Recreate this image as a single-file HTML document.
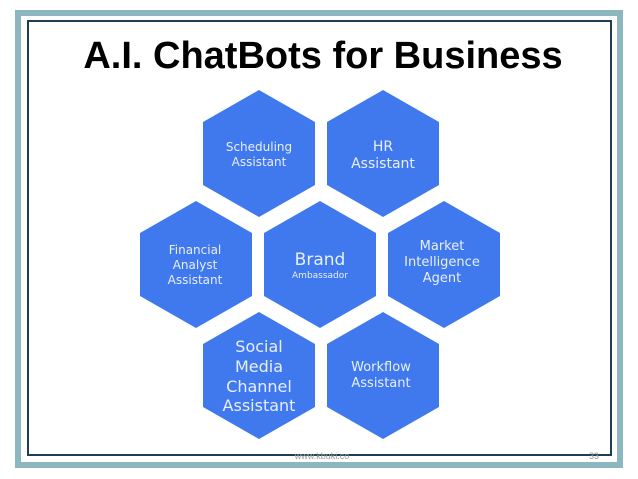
<!DOCTYPE html>
<html><head><style>
html,body{margin:0;padding:0;background:#fff;}
body{width:638px;height:479px;position:relative;overflow:hidden;font-family:"Liberation Sans",sans-serif;}
h1{position:absolute;left:4px;width:638px;top:35px;margin:0;text-align:center;font-size:38px;font-weight:bold;color:#000;}
</style></head><body>
<svg width="638" height="479" style="position:absolute;left:0;top:0">
<rect x="18" y="13" width="602" height="452" fill="none" stroke="#8db7bf" stroke-width="6"/>
<rect x="28" y="21" width="583" height="434" fill="none" stroke="#1f3d55" stroke-width="2"/>
<g fill="#4079ee">
<polygon points="259,90 315,122 315,185 259,217 203,185 203,122"/>
<polygon points="383,90 439,122 439,185 383,217 327,185 327,122"/>
<polygon points="196,201 252,233 252,296 196,328 140,296 140,233"/>
<polygon points="320,201 376,233 376,296 320,328 264,296 264,233"/>
<polygon points="444,201 500,233 500,296 444,328 388,296 388,233"/>
<polygon points="259,312 315,344 315,407 259,439 203,407 203,344"/>
<polygon points="383,312 439,344 439,407 383,439 327,407 327,344"/>
</g>
<g fill="#e8efff" font-family="DejaVu Sans, sans-serif" text-anchor="middle">
<text x="259" y="151" font-size="12">Scheduling</text>
<text x="259" y="166" font-size="12">Assistant</text>
<text x="383" y="151" font-size="14">HR</text>
<text x="383" y="168" font-size="14">Assistant</text>
<text x="195" y="254" font-size="12">Financial</text>
<text x="195" y="269" font-size="12">Analyst</text>
<text x="195" y="284" font-size="12">Assistant</text>
<text x="320" y="265" font-size="17">Brand</text>
<text x="320" y="278" font-size="9">Ambassador</text>
<text x="442" y="250" font-size="13">Market</text>
<text x="442" y="266" font-size="13">Intelligence</text>
<text x="442" y="282" font-size="13">Agent</text>
<text x="259" y="352" font-size="16">Social</text>
<text x="259" y="372" font-size="16">Media</text>
<text x="259" y="392" font-size="16">Channel</text>
<text x="259" y="411" font-size="16">Assistant</text>
<text x="381" y="371" font-size="13">Workflow</text>
<text x="381" y="387" font-size="13">Assistant</text>
</g>
<text x="322" y="459" font-size="9" fill="#999" text-anchor="middle" font-family="Liberation Sans, sans-serif">www.kbuki.co</text>
<text x="594" y="459" font-size="9" fill="#999" text-anchor="middle" font-family="Liberation Sans, sans-serif">33</text>
</svg>
<h1>A.I. ChatBots for Business</h1>
</body></html>
